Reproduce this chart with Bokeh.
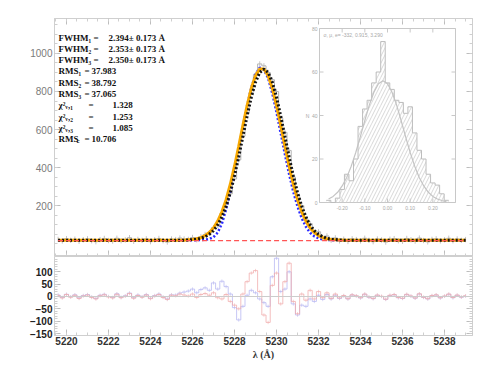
import numpy as np
from bokeh.plotting import figure
from bokeh.layouts import column
from bokeh.models import Range1d, LinearAxis, Label, FixedTicker, Span
from bokeh.embed import file_html
from bokeh.resources import INLINE
from bokeh.core.properties import value

# ---------------- data ----------------
WAVE_START = 5219.6
WAVE_STEP = 0.2

flux_obs = [22, 14, 26, 17, 23, 12, 20, 25, 15, 10, 21, 27, 16, 13, 28, 15, 19, 31, 12, 22,
            17, 25, 10, 20, 27, 15, 8, 24, 21, 29, 24,
            22, 32, 20, 37, 48, 55, 84, 95, 158, 205, 262, 340, 440, 565, 690, 795, 890, 945,
            935, 900, 862, 800, 660, 585, 490, 350, 255, 200, 130, 105, 60, 62, 32, 40, 18, 30, 14,
            23, 11, 25, 21, 14, 28, 17, 10, 24, 19, 8, 23, 26, 15, 12, 27, 20, 13, 29, 16,
            9, 22, 25, 14, 20, 28, 15, 24, 17, 21]
flux_err = 14

base_left = [18] * 31
base_right = [18] * 30
model_1_peak = [18, 18, 18, 19, 20, 24, 34, 58, 105, 180, 275, 385, 500, 615, 725, 820, 890, 925,
                915, 870, 790, 690, 580, 470, 365, 272, 195, 133, 88, 57, 38, 28, 22, 19, 18, 18, 18]
model_2_peak = [20, 22, 25, 31, 42, 58, 82, 118, 167, 231, 312, 407, 512, 622, 726, 817, 883, 918,
                918, 883, 817, 726, 622, 512, 407, 312, 231, 167, 118, 82, 58, 42, 31, 25, 22, 20, 19]
model_3_peak = [19, 21, 23, 28, 36, 49, 68, 98, 140, 196, 268, 356, 456, 564, 671, 770, 849, 900,
                918, 900, 849, 770, 671, 564, 456, 356, 268, 196, 140, 98, 68, 49, 36, 28, 23, 21, 19]
model_1 = base_left + model_1_peak + base_right   # blue
model_2 = base_left + model_2_peak + base_right   # orange
model_3 = base_left + model_3_peak + base_right   # black
continuum = 15

res_3 = [4, -6, 8, -3, 5, -8, 2, 6, -4, -10, 3, 7, -2, -6, 9, -5, 1, 12, -7, 4, -3, 6, -9, 2, 8,
         -4, -12, 5, 3, 10,
         6, 2, 10, -4, 8, 12, 5, 15, -5, -10, 8, -20, -35, -50, 10, 60, 95, 105, 20, -75, -105,
         45, 95, -30, 60, 135, -20, -70, 10, -15, 25, -10, 20, -5, 15, -8, 10, -6,
         4, -9, 7, 3, -5, 10, -2, -8, 6, 1, -11, 5, 8, -4, -7, 9, 2, -6, 11, -3, -9, 4, 7, -5,
         2, 10, -4, 6, -2, 3]
res_1 = [6, -4, 9, -1, 7, -6, 4, 8, -2, -8, 5, 9, 0, -4, 11, -3, 3, 14, -5, 6, -1, 8, -7, 4, 10,
         -2, -10, 7, 6, 14,
         18, 22, 30, 15, 28, 35, 25, 55, 30, 62, 40, 10, -45, -95, -40, 5, 25, 15, -10, -25, -40,
         80, 155, 20, 30, 100, -30, -75, -35, -40, -10, -20, 5, -12, 8, -10, 5, -8,
         2, -10, 6, 2, -6, 9, -3, -9, 5, 0, -12, 4, 7, -5, -8, 8, 1, -7, 10, -4, -10, 3, 6, -6,
         1, 9, -5, 5, -3, 2]
res_err = 7

x_ticks = [5220, 5222, 5224, 5226, 5228, 5230, 5232, 5234, 5236, 5238]
y_ticks_main = [200, 400, 600, 800, 1000]
y_ticks_res = [-150, -100, -50, 0, 50, 100]

stat_names = ["FWHM\u2081", "FWHM\u2082", "FWHM\u2083", "RMS\u2081", "RMS\u2082", "RMS\u2083",
              "\u03c7\u00b2\u1d65,\u2081", "\u03c7\u00b2\u1d65,\u2082", "\u03c7\u00b2\u1d65,\u2083", "RMS"]
stat_values = ["2.394\u00b1 0.173 \u00c5", "2.353\u00b1 0.173 \u00c5", "2.350\u00b1 0.173 \u00c5",
               "37.983", "38.792", "37.065", "1.328", "1.253", "1.085", "10.706"]

hist_counts = [1, 0, 2, 6, 13, 10, 20, 35, 43, 47, 55, 60, 74, 55, 52, 47, 46, 41, 44, 32, 24,
               20, 13, 9, 8, 4, 1]
hist_fit = [1.6, 2.8, 4.7, 7.6, 11.5, 16.7, 23.0, 30.2, 37.7, 44.9, 50.7, 54.6, 56.0, 54.6, 50.7,
            44.9, 37.7, 30.2, 23.0, 16.7, 11.5, 7.6, 4.7, 2.8, 1.6, 0.9, 0.4]
HIST_LO = -0.27
HIST_W = 0.02
inset_x_ticks = [-0.2, -0.1, 0.0, 0.1, 0.2]
inset_x_labels = ["-0.20", "-0.10", "0.00", "0.10", "0.20"]
inset_y_ticks = [0, 20, 40, 60, 80]
inset_header = "\u03c3, \u03bc, e= -332, 0.915, 3.290"

# ---------------- layout (canvas pixels) ----------------
FW, MH, RH = 482, 256, 106
FRAME_L, FRAME_R, FRAME_T, FRAME_B = 54, 472, 18, 256      # main frame
INSET_L, INSET_R, INSET_T, INSET_B = 319, 455, 28, 202     # inset box
INSET_X = (-0.3, 0.3)
INSET_Y = (0, 80)

wave = WAVE_START + WAVE_STEP * np.arange(len(flux_obs))
flux = np.array(flux_obs, dtype=float)

x_rng = Range1d(5219.43, 5239.33)
p = figure(width=FW, height=MH, x_range=x_rng, y_range=Range1d(-68, 1184),
           output_backend="svg", toolbar_location=None,
           min_border_left=FRAME_L, min_border_right=FW - FRAME_R,
           min_border_top=FRAME_T, min_border_bottom=0)
p.grid.visible = False
p.outline_line_color = "#cfcfcf"
p.background_fill_color = "white"
p.border_fill_color = "white"

minor_x = [5219.5 + 0.5 * i for i in range(40)]
xt = FixedTicker(ticks=x_ticks, minor_ticks=minor_x)
yt = FixedTicker(ticks=y_ticks_main, minor_ticks=list(range(0, 1200, 50)))


def style_axis(ax, show_labels, color="#7a7a7a", bold=False):
    ax.axis_line_color = "#cfcfcf"
    ax.major_tick_line_color = "#bdbdbd"
    ax.minor_tick_line_color = "#cfcfcf"
    ax.major_tick_in = 6
    ax.major_tick_out = 0
    ax.minor_tick_in = 3
    ax.minor_tick_out = 0
    ax.major_label_text_font = "Liberation Sans"
    ax.major_label_text_font_style = "bold" if bold else "normal"
    if show_labels:
        ax.major_label_text_color = color
        ax.major_label_text_font_size = "10px"
        ax.major_label_standoff = 2
    else:
        ax.major_label_text_color = None
        ax.major_label_text_font_size = "0px"
        ax.major_label_standoff = 0


p.xaxis.ticker = xt
style_axis(p.xaxis[0], False)
p.yaxis.ticker = yt
style_axis(p.yaxis[0], True)

ax_r = LinearAxis(ticker=yt)
style_axis(ax_r, False)
p.add_layout(ax_r, "right")
ax_t = LinearAxis(ticker=xt)
style_axis(ax_t, False)
p.add_layout(ax_t, "above")

# observed spectrum (gray histogram with error bars)
p.segment(x0=wave, y0=flux - flux_err, x1=wave, y1=flux + flux_err, line_color="#c4c4c4", line_width=1)
p.step(wave, flux, mode="center", line_color="#b4b4b4", line_width=1)

# models
p.line(wave, model_1, line_color="#2a2aff", line_width=2.5, line_dash="2 2")
p.line(wave, model_2, line_color="#f7a800", line_width=3)
p.line(wave, model_3, line_color="#151515", line_width=3, line_dash="2 2")
p.line([wave[0], wave[-1]], [continuum, continuum], line_color="#ff5555", line_width=1.3, line_dash="5 3")

# ---- inset histogram drawn in its own ranges ----
sx = (INSET_X[1] - INSET_X[0]) / (INSET_R - INSET_L)
sy = (INSET_Y[1] - INSET_Y[0]) / (INSET_B - INSET_T)
p.extra_x_ranges = {"ix": Range1d(INSET_X[0] - (INSET_L - FRAME_L) * sx, INSET_X[1] + (FRAME_R - INSET_R) * sx)}
p.extra_y_ranges = {"iy": Range1d(INSET_Y[0] - (FRAME_B - INSET_B) * sy, INSET_Y[1] + (INSET_T - FRAME_T) * sy)}
kw = dict(x_range_name="ix", y_range_name="iy")

p.quad(left=[INSET_X[0]], right=[INSET_X[1]], bottom=[INSET_Y[0]], top=[INSET_Y[1]],
       fill_color="white", line_color="#c8c8c8", line_width=1, **kw)
edges = HIST_LO + HIST_W * np.arange(len(hist_counts) + 1)
p.quad(left=edges[:-1], right=edges[1:], bottom=0, top=hist_counts, fill_color=None,
       line_color=None, hatch_pattern="/", hatch_color="#cdcdcd", hatch_scale=7, hatch_weight=0.8, **kw)
p.step(edges, list(hist_counts) + [hist_counts[-1]], mode="after", line_color="#bdbdbd", line_width=1, **kw)
centers = edges[:-1] + HIST_W / 2
p.line(centers, hist_fit, line_color="#c4c4c4", line_width=1.2, **kw)

tick_lx = 4 * sx
tick_ly = 4 * sy
p.segment(x0=INSET_X[0], x1=INSET_X[0] + tick_lx, y0=inset_y_ticks, y1=inset_y_ticks, line_color="#c8c8c8", **kw)
p.segment(x0=INSET_X[1], x1=INSET_X[1] - tick_lx, y0=inset_y_ticks, y1=inset_y_ticks, line_color="#c8c8c8", **kw)
p.segment(x0=inset_x_ticks, x1=inset_x_ticks, y0=INSET_Y[0], y1=INSET_Y[0] + tick_ly, line_color="#c8c8c8", **kw)
p.segment(x0=inset_x_ticks, x1=inset_x_ticks, y0=INSET_Y[1], y1=INSET_Y[1] - tick_ly, line_color="#c8c8c8", **kw)
p.text(x=INSET_X[0] - 2 * sx, y=inset_y_ticks, text=[str(v) for v in inset_y_ticks],
       text_font=value("Liberation Sans"), text_font_size="5px", text_color="#a8a8a8",
       text_align="right", text_baseline="middle", **kw)
p.text(x=inset_x_ticks, y=INSET_Y[0] - 3 * sy, text=inset_x_labels,
       text_font=value("Liberation Sans"), text_font_size="5px", text_color="#a8a8a8",
       text_align="center", text_baseline="top", **kw)
p.text(x=[INSET_X[0] + 4 * sx], y=[INSET_Y[1] - 3 * sy], text=[inset_header],
       text_font=value("Liberation Sans"), text_font_size="5px", text_color="#a8a8a8",
       text_align="left", text_baseline="top", **kw)
p.text(x=[INSET_X[0] - 12 * sx], y=[40], text=["N"],
       text_font=value("Liberation Sans"), text_font_size="5px", text_color="#a8a8a8",
       text_align="center", text_baseline="middle", **kw)

# ---- statistics text block ----
TXT = dict(x_units="canvas", y_units="canvas", text_font="Liberation Serif", text_font_size="9px",
           text_font_style="bold", text_color="#111111", text_baseline="middle", text_align="left")
for i, (nm, val) in enumerate(zip(stat_names, stat_values)):
    cy = 37 + 11.3 * i
    if i < 3:
        eq_x, vx = 93, 108
    elif i < 6:
        eq_x, vx = 84, 91
    elif i < 9:
        eq_x, vx = 88, 112
    else:
        eq_x, vx = 84, 91
        p.add_layout(Label(x=76, y=cy + 2, text="c", **{**TXT, "text_font_size": "7px"}))
    p.add_layout(Label(x=58, y=cy, text=nm, **TXT))
    p.add_layout(Label(x=eq_x, y=cy, text="=", **TXT))
    p.add_layout(Label(x=vx, y=cy, text=val, **TXT))

# y label spanning both panels
p.add_layout(Label(x=20, y=175, x_units="canvas", y_units="canvas",
                   text="F\u03bb (10\u207b\u00b9\u2076 erg s\u207b\u00b9 cm\u207b\u00b2 \u00c5\u207b\u00b9)",
                   angle=np.pi / 2, text_font="Liberation Sans", text_font_size="9.5px",
                   text_color="#555555", text_align="center", text_baseline="middle"))

# ---------------- residual panel ----------------
r = figure(width=FW, height=RH, x_range=x_rng, y_range=Range1d(-158, 162),
           output_backend="svg", toolbar_location=None,
           min_border_left=FRAME_L, min_border_right=FW - FRAME_R,
           min_border_top=0, min_border_bottom=0)
r.grid.visible = False
r.outline_line_color = "#cfcfcf"
r.xaxis.ticker = xt
style_axis(r.xaxis[0], True, color="#333333", bold=True)
r.xaxis.major_label_standoff = 1
r.xaxis.axis_label = "\u03bb (\u00c5)"
r.xaxis.axis_label_text_font = "Liberation Serif"
r.xaxis.axis_label_text_font_size = "10px"
r.xaxis.axis_label_text_font_style = "bold"
r.xaxis.axis_label_text_color = "#333333"
r.xaxis.axis_label_standoff = 1
yrt = FixedTicker(ticks=y_ticks_res, minor_ticks=list(range(-150, 160, 10)))
r.yaxis.ticker = yrt
style_axis(r.yaxis[0], True, color="#222222", bold=True)
ax_rr = LinearAxis(ticker=yrt)
style_axis(ax_rr, False)
r.add_layout(ax_rr, "right")

r.add_layout(Span(location=0, dimension="width", line_color="#cccccc", line_width=1))
r1 = np.array(res_1, dtype=float)
r3 = np.array(res_3, dtype=float)
r.segment(x0=wave, y0=r1 - res_err, x1=wave, y1=r1 + res_err, line_color="#c4c4f4", line_alpha=0.7)
r.step(wave, r1, mode="center", line_color="#b4b4f2", line_alpha=0.75, line_width=1)
r.segment(x0=wave, y0=r3 - res_err, x1=wave, y1=r3 + res_err, line_color="#f4c0c0", line_alpha=0.7)
r.step(wave, r3, mode="center", line_color="#f0aaaa", line_alpha=0.75, line_width=1)

layout = column(p, r, spacing=0)
open("out.html", "w").write(file_html(layout, INLINE))
